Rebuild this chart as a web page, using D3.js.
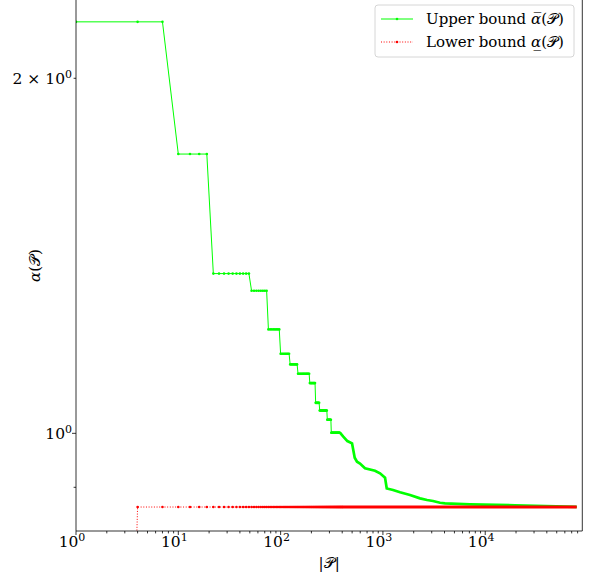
<!DOCTYPE html>
<html>
<head>
<meta charset="utf-8">
<script src="https://cdn.jsdelivr.net/npm/d3@7"></script>
<style>
  body { margin: 0; background: #fff; }
  text { font-family: "DejaVu Serif", serif; fill: #000; }
</style>
</head>
<body>
<svg id="chart"></svg>
<script>
// upper bound: flat levels (first |P|, last |P|, value), sampled every 3
const stepStart = [1, 10, 22, 52, 76, 100, 124, 148, 193, 220, 241, 286, 313];
const stepEnd   = [7, 19, 49, 73, 97, 121, 145, 190, 217, 238, 283, 310, 380];
const stepUpper = [2.233, 1.725, 1.366, 1.321, 1.225, 1.168, 1.144, 1.1235, 1.103, 1.0613, 1.0457, 1.0269, 1.0012];
// upper bound: dense tail
const tailN     = [410, 449, 499, 530, 558, 597, 668, 837, 937, 1049, 1090, 1256, 1470, 1840, 2305, 2700, 3090, 3615, 4045, 7100, 19550, 78400];
const tailUpper = [0.9934, 0.985, 0.9807, 0.9535, 0.946, 0.9428, 0.934, 0.9296, 0.9249, 0.917, 0.898, 0.8953, 0.8913, 0.8866, 0.8808, 0.8779, 0.8762, 0.8733, 0.8723, 0.8706, 0.8689, 0.8663];
// lower bound
const lowerN   = [1, 4, 78400];
const lowerVal = [0, 0.866, 0.866];

const xTicks = [1, 10, 100, 1000, 10000];
const xTickExp = ["0", "1", "2", "3", "4"];

const width = 590, height = 578;
const margin = {left: 76, right: 7.7, top: 0, bottom: 47};

const svg = d3.select("#chart").attr("width", width).attr("height", height);

const x = d3.scaleLog().domain([1, 88900]).range([margin.left, width - margin.right]);
const y = d3.scaleLog().domain([0.8264, 2.3303]).range([height - margin.bottom, margin.top]);
const yPos = v => v > 0 ? y(v) : height + 2000;

svg.append("clipPath").attr("id", "clip").append("rect")
    .attr("x", margin.left).attr("y", margin.top)
    .attr("width", width - margin.right - margin.left)
    .attr("height", height - margin.bottom - margin.top);

// build upper series points
const upperPts = [];
stepStart.forEach((s, i) => {
    upperPts.push([s, stepUpper[i]]);
    upperPts.push([stepEnd[i], stepUpper[i]]);
});
tailN.forEach((n, i) => upperPts.push([n, tailUpper[i]]));

// markers at evaluated sizes on flat levels
const upperMarks = [];
stepStart.forEach((s, i) => {
    for (let n = s; n <= stepEnd[i]; n += 3) upperMarks.push([n, stepUpper[i]]);
});
const lowerMarks = [];
for (let n = lowerN[1]; n <= 400; n += 3) lowerMarks.push([n, lowerVal[1]]);

const line = d3.line().x(d => x(d[0])).y(d => yPos(d[1]));
const plot = svg.append("g").attr("clip-path", "url(#clip)");

const green = "#00ff00", red = "#ff0000";

plot.append("path").datum(upperPts)
    .attr("fill", "none").attr("stroke", green).attr("stroke-width", 1)
    .attr("d", line);
plot.append("path").datum([upperPts[upperPts.length - tailN.length - 1]].concat(tailN.map((n, i) => [n, tailUpper[i]])))
    .attr("fill", "none").attr("stroke", green).attr("stroke-width", 2.7)
    .attr("d", line);
plot.append("g").selectAll("circle").data(upperMarks).join("circle")
    .attr("cx", d => x(d[0])).attr("cy", d => y(d[1])).attr("r", 1.3)
    .attr("fill", green);

const lowerPts = lowerN.map((n, i) => [n, lowerVal[i]]);
plot.append("path").datum(lowerPts)
    .attr("fill", "none").attr("stroke", red).attr("stroke-width", 1)
    .attr("stroke-dasharray", "1,1.65")
    .attr("d", line);
plot.append("path").datum([[400, lowerVal[1]], [lowerN[2], lowerVal[2]]])
    .attr("fill", "none").attr("stroke", red).attr("stroke-width", 2.9)
    .attr("d", line);
plot.append("g").selectAll("circle").data(lowerMarks).join("circle")
    .attr("cx", d => x(d[0])).attr("cy", d => y(d[1])).attr("r", 1.3)
    .attr("fill", red);

// axes
const bottomY = height - margin.bottom;
const xMinor = [];
for (let e = 0; e <= 4; e++) for (let k = 2; k <= 9; k++) {
    const v = k * Math.pow(10, e);
    if (v <= x.domain()[1]) xMinor.push(v);
}
const gx = svg.append("g").attr("transform", `translate(0,${bottomY})`);
gx.selectAll(".minor").data(xMinor).join("line")
    .attr("x1", d => x(d)).attr("x2", d => x(d)).attr("y1", 0).attr("y2", 2.4)
    .attr("stroke", "#000").attr("stroke-width", 0.8);
gx.selectAll(".major").data(xTicks).join("line")
    .attr("x1", d => x(d)).attr("x2", d => x(d)).attr("y1", 0).attr("y2", 4)
    .attr("stroke", "#000").attr("stroke-width", 0.8);
const xl = gx.selectAll("text").data(xTicks).join("text")
    .attr("x", d => x(d) - 4).attr("y", 16).attr("text-anchor", "middle")
    .style("font-size", "15.5px");
xl.append("tspan").text("10");
xl.append("tspan").attr("dy", -6.5).style("font-size", "11px").text((d, i) => xTickExp[i]);

// y ticks
const gy = svg.append("g");
gy.append("line").attr("x1", margin.left - 4).attr("x2", margin.left)
    .attr("y1", y(1)).attr("y2", y(1)).attr("stroke", "#000").attr("stroke-width", 0.8);
[0.9, 2].forEach(v => gy.append("line").attr("x1", margin.left - 2.4).attr("x2", margin.left)
    .attr("y1", y(v)).attr("y2", y(v)).attr("stroke", "#000").attr("stroke-width", 0.8));
const t1 = gy.append("text").attr("x", margin.left - 4).attr("y", y(1) + 6)
    .attr("text-anchor", "end").style("font-size", "15.5px");
t1.append("tspan").text("10");
t1.append("tspan").attr("dy", -6.5).style("font-size", "11px").text("0");
const t2 = gy.append("text").attr("x", margin.left - 4).attr("y", y(2) + 6)
    .attr("text-anchor", "end").style("font-size", "15.5px");
t2.append("tspan").text("2 × 10");
t2.append("tspan").attr("dy", -6.5).style("font-size", "11px").text("0");

// spines
const spine = svg.append("g").attr("stroke", "#000").attr("stroke-width", 0.8).attr("fill", "none");
spine.append("line").attr("x1", margin.left).attr("x2", margin.left).attr("y1", 0).attr("y2", bottomY);
spine.append("line").attr("x1", width - margin.right).attr("x2", width - margin.right).attr("y1", 0).attr("y2", bottomY);
spine.append("line").attr("x1", margin.left).attr("x2", width - margin.right).attr("y1", bottomY).attr("y2", bottomY);

// axis labels
svg.append("text").attr("x", (margin.left + width - margin.right) / 2).attr("y", 568)
    .attr("text-anchor", "middle").style("font-size", "15px").text("|𝒫|");
svg.append("text").attr("transform", `translate(40,${bottomY / 2}) rotate(-90)`)
    .attr("text-anchor", "middle").style("font-size", "15px").html("<tspan font-style='italic'>α</tspan>(𝒫)");

// legend
const lg = svg.append("g");
lg.append("rect").attr("x", 375).attr("y", 5).attr("width", 199).attr("height", 52).attr("rx", 3)
    .attr("fill", "#fff").attr("fill-opacity", 0.8).attr("stroke", "#ccc").attr("stroke-width", 0.8);
const entries = [
    {c: green, dash: null, y: 19, label: "Upper bound ", sym: "α\u0305"},
    {c: red, dash: "1,1.65", y: 42, label: "Lower bound ", sym: "α\u0332"}
];
entries.forEach(e => {
    lg.append("line").attr("x1", 381).attr("x2", 413).attr("y1", e.y).attr("y2", e.y)
        .attr("stroke", e.c).attr("stroke-width", 1).attr("stroke-dasharray", e.dash);
    lg.append("circle").attr("cx", 397).attr("cy", e.y).attr("r", 1.3).attr("fill", e.c);
    const t = lg.append("text").attr("x", 426).attr("y", e.y + 5).style("font-size", "15px");
    t.append("tspan").text(e.label);
    t.append("tspan").attr("font-style", "italic").text(e.sym);
    t.append("tspan").text("(𝒫)");
});
</script>
</body>
</html>
